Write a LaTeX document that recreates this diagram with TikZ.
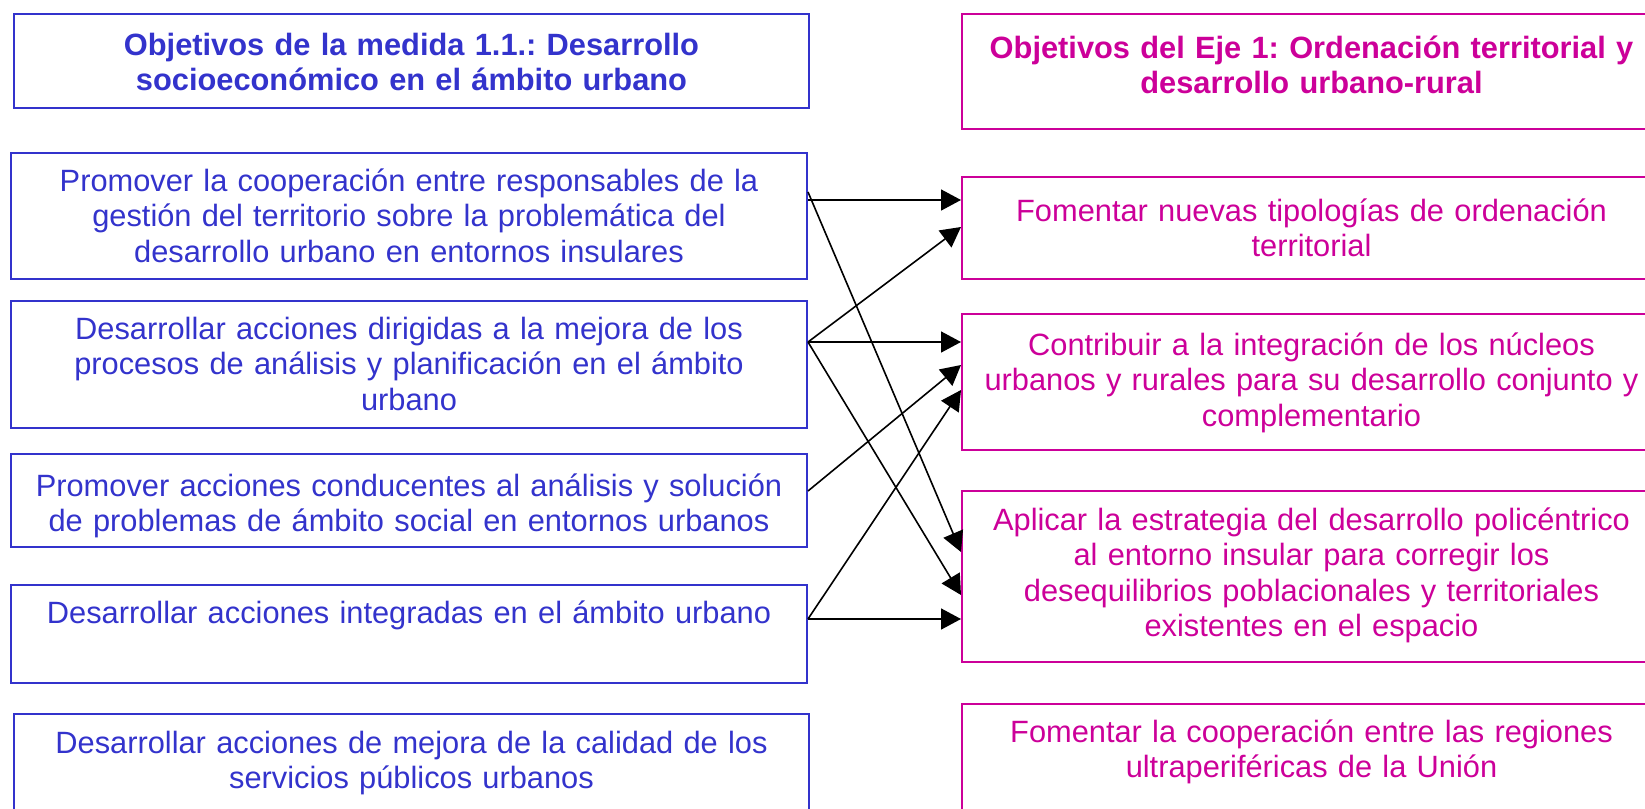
\documentclass[tikz,border=0pt]{standalone}
\usepackage{fontspec}
\setmainfont{Liberation Sans}
\usetikzlibrary{arrows.meta,calc}
\definecolor{azul}{RGB}{51,51,204}
\definecolor{rosa}{RGB}{204,0,153}
\frenchspacing
\begin{document}
\begin{tikzpicture}[x=0.5pt,y=-0.5pt,
  lbox/.style={draw=azul, line width=1pt, inner sep=0pt, anchor=north west},
  rbox/.style={draw=rosa, line width=1pt, inner sep=0pt, anchor=north west},
  ltxt/.style={text=azul, font=\fontsize{15.4pt}{17.8pt}\selectfont, text width=390pt, align=center, anchor=base, inner sep=0pt},
  rtxt/.style={ltxt, text=rosa},
  ltitle/.style={ltxt, font=\fontsize{15.4pt}{17.6pt}\selectfont\bfseries},
  rtitle/.style={ltitle, text=rosa},
  conn/.style={draw=black, line width=0.8pt, -{Triangle[length=10pt,width=10.5pt]}}]
\useasboundingbox (0,0) rectangle (1645,809);
\clip (0,0) rectangle (1645,809);
% left boxes
\node[lbox, minimum width=397.5pt, minimum height=47pt] (LH) at (13,13) {};
\node[lbox, minimum width=398pt, minimum height=63pt] (L1) at (10,152) {};
\node[lbox, minimum width=398pt, minimum height=63.5pt] (L2) at (10,300) {};
\node[lbox, minimum width=398pt, minimum height=46.5pt] (L3) at (10,453) {};
\node[lbox, minimum width=398pt, minimum height=49pt] (L4) at (10,584) {};
\node[lbox, minimum width=397.5pt, minimum height=60pt] (L5) at (13,713) {};
% right boxes
\node[rbox, minimum width=349.5pt, minimum height=57.5pt] (RH) at (961,13) {};
\node[rbox, minimum width=349.5pt, minimum height=51pt] (R1) at (961,176) {};
\node[rbox, minimum width=349.5pt, minimum height=68pt] (R2) at (961,313) {};
\node[rbox, minimum width=349.5pt, minimum height=85.5pt] (R3) at (961,490) {};
\node[rbox, minimum width=349.5pt, minimum height=65pt] (R4) at (961,703) {};
% texts
\node[ltitle] (LHt) at ($(LH.north)+(0,42)$) {Objetivos de la medida 1.1.: Desarrollo\\socioeconómico en el ámbito urbano};
\node[ltxt] (L1t) at ($(L1.north)+(0,39)$) {Promover la cooperación entre responsables de la\\gestión del territorio sobre la problemática del\\desarrollo urbano en entornos insulares};
\node[ltxt] (L2t) at ($(L2.north)+(0,39)$) {Desarrollar acciones dirigidas a la mejora de los\\procesos de análisis y planificación en el ámbito\\urbano};
\node[ltxt] (L3t) at ($(L3.north)+(0,43)$) {Promover acciones conducentes al análisis y solución\\de problemas de ámbito social en entornos urbanos};
\node[ltxt] (L4t) at ($(L4.north)+(0,39)$) {Desarrollar acciones integradas en el ámbito urbano};
\node[ltxt] (L5t) at ($(L5.north)+(0,40)$) {Desarrollar acciones de mejora de la calidad de los\\servicios públicos urbanos};
\node[rtitle] (RHt) at ($(RH.north)+(0,45)$) {Objetivos del Eje 1: Ordenación territorial y\\desarrollo urbano-rural};
\node[rtxt] (R1t) at ($(R1.north)+(0,45)$) {Fomentar nuevas tipologías de ordenación\\territorial};
\node[rtxt] (R2t) at ($(R2.north)+(0,42)$) {Contribuir a la integración de los núcleos\\urbanos y rurales para su desarrollo conjunto y\\complementario};
\node[rtxt] (R3t) at ($(R3.north)+(0,40)$) {Aplicar la estrategia del desarrollo policéntrico\\al entorno insular para corregir los\\desequilibrios poblacionales y territoriales\\existentes en el espacio};
\node[rtxt] (R4t) at ($(R4.north)+(0,39)$) {Fomentar la cooperación entre las regiones\\ultraperiféricas de la Unión};
% connectors
\draw[conn] ($(L1.north east)+(0,48)$) -- ($(R1.north west)+(0,24)$);
\draw[conn] ($(L1.north east)+(0,40)$) -- ($(R3.north west)+(0,62)$);
\draw[conn] ($(L2.north east)+(0,42)$) -- ($(R1.north west)+(0,51)$);
\draw[conn] ($(L2.north east)+(0,42)$) -- ($(R2.north west)+(0,29)$);
\draw[conn] ($(L2.north east)+(0,42)$) -- ($(R3.north west)+(0,105)$);
\draw[conn] ($(L3.north east)+(0,38)$) -- ($(R2.north west)+(0,52)$);
\draw[conn] ($(L4.north east)+(0,35)$) -- ($(R2.north west)+(0,77)$);
\draw[conn] ($(L4.north east)+(0,35)$) -- ($(R3.north west)+(0,129)$);
\end{tikzpicture}
\end{document}
